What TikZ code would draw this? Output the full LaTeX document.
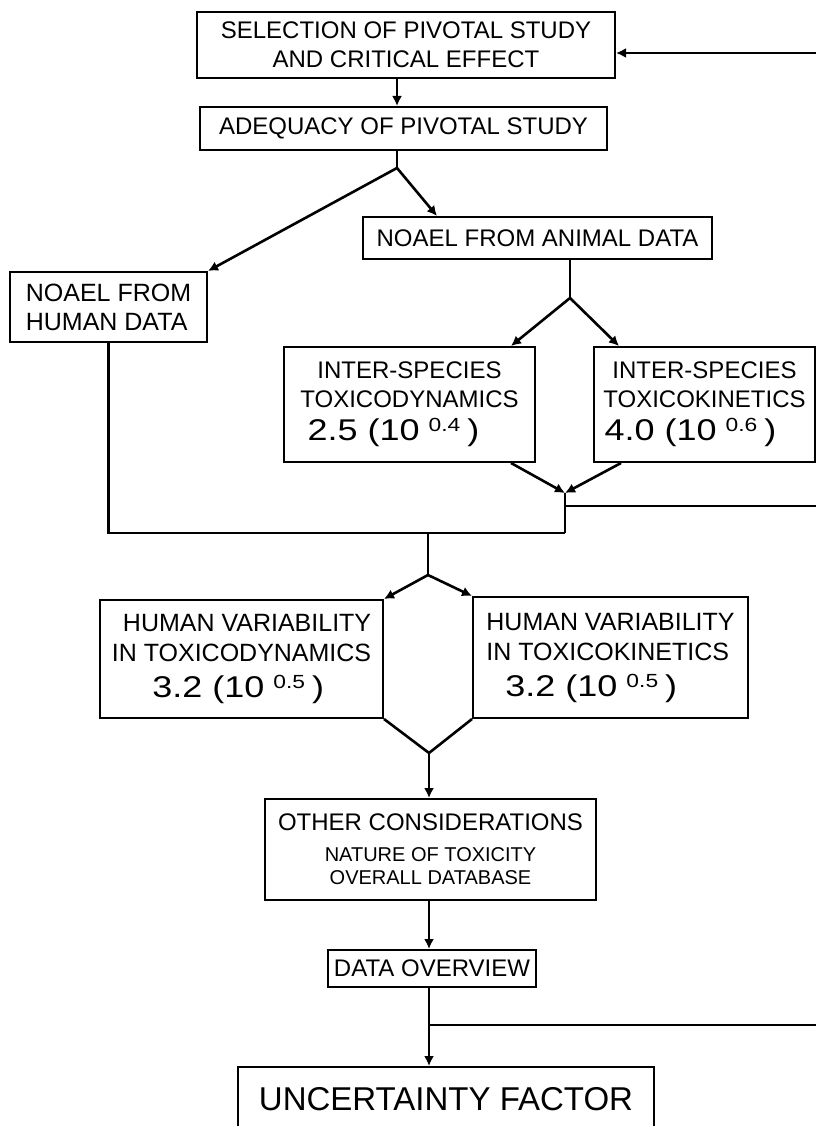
\documentclass[tikz,border=0pt]{standalone}
\usepackage{fontspec}
\setmainfont{Liberation Sans}
\newfontfamily\widefamily{Liberation Sans}[FakeStretch=1.2]
\usetikzlibrary{arrows.meta, positioning, calc}

\newcommand{\smallfont}{\fontsize{20}{24}\selectfont}
% uncertainty value with its power of ten
\newcommand{\ufvalue}[2]{{\widefamily\fontsize{30}{34}\selectfont #1\ (10\hspace{9pt}\raisebox{9pt}{\fontsize{19}{22}\selectfont #2}\hspace{7pt})}}

\begin{document}
\begin{tikzpicture}[x=1pt, y=-1pt,
  box/.style={rectangle, draw, line width=2pt, inner sep=0pt, align=center, font=\fontsize{24}{29}\selectfont},
  arrow/.style={-{Latex[length=10pt, width=10pt]}, line width=2.6pt},
  link/.style={line width=2.6pt}
]
\useasboundingbox (0,0) rectangle (816,1126);

\node[box, minimum width=418pt, minimum height=66pt] (select) at (406,45) {SELECTION OF PIVOTAL STUDY\\AND CRITICAL EFFECT};
\node[box, minimum width=407pt, minimum height=43pt] (adequacy) at (403.5,128.5) {ADEQUACY OF PIVOTAL STUDY};
\node[box, minimum width=349pt, minimum height=42pt] (animal) at (537.5,238) {NOAEL FROM ANIMAL DATA};
\node[box, align=left, minimum width=197pt, minimum height=70pt, font=\fontsize{25}{29}\selectfont] (human) at (108.5,307) {NOAEL FROM\\HUMAN DATA};

\node[box, minimum width=251pt, minimum height=115pt] (dynamics) at (409.5,404.5) {INTER-SPECIES\\TOXICODYNAMICS\\[4pt]\ufvalue{2.5}{0.4}\hspace*{32pt}};
\node[box, minimum width=221pt, minimum height=115pt] (kinetics) at (704.5,404.5) {INTER-SPECIES\\TOXICOKINETICS\\[4pt]\ufvalue{4.0}{0.6}\hspace*{28pt}};

\node[box, align=right, minimum width=283pt, minimum height=118pt, font=\fontsize{25}{30}\selectfont] (hvdyn) at (241.5,659) {HUMAN VARIABILITY\\IN TOXICODYNAMICS\\[6pt]\ufvalue{3.2}{0.5}\hspace*{47pt}};
\node[box, align=left, minimum width=275pt, minimum height=121pt, font=\fontsize{25}{30}\selectfont] (hvkin) at (610.5,657.5) {HUMAN VARIABILITY\\IN TOXICOKINETICS\\[6pt]\hspace*{19pt}\ufvalue{3.2}{0.5}};

\node[box, minimum width=331pt, minimum height=101pt] (other) at (430.5,849.5) {OTHER CONSIDERATIONS\\[2pt]{\smallfont NATURE OF TOXICITY}\\[-6pt]{\smallfont OVERALL DATABASE}};
\node[box, minimum width=208pt, minimum height=37pt] (overview) at (432,968.5) {DATA OVERVIEW};
\node[box, minimum width=416pt, minimum height=64pt, font=\fontsize{33}{40}\selectfont] (factor) at (446,1099) {UNCERTAINTY FACTOR};

% loop back into the first box
\coordinate (back1) at (816,53);
\draw[arrow] (back1) -- (select.east |- back1);

\coordinate (split1) at (397,168);
\draw[arrow] (select.south -| split1) -- (adequacy.north -| split1);
\draw[link] (adequacy.south -| split1) -- (split1);
\draw[arrow] (split1) -- (human.north east);
\draw[arrow] (split1) -- ($(animal.north west)+(75,0)$);

\coordinate (split2) at (570,298);
\draw[link] (animal.south -| split2) -- (split2);
\draw[arrow] (split2) -- ($(dynamics.north west)+(228,0)$);
\draw[arrow] (split2) -- ($(kinetics.north west)+(26,0)$);

% inter-species factors join the human data line
\coordinate (merge1) at (565,493);
\coordinate (join) at (565,533);
\coordinate (back2) at (816,506);
\draw[arrow] ($(dynamics.south west)+(228,0)$) -- (merge1);
\draw[arrow] ($(kinetics.south west)+(28,0)$) -- (merge1);
\draw[link] (merge1) -- (join);
\draw[link] (human.south) |- (join);
\draw[link] (merge1 |- back2) -- (back2);

\coordinate (split3) at (428,575);
\draw[link] (split3 |- join) -- (split3);
\draw[arrow] (split3) -- (hvdyn.north east);
\draw[arrow] (split3) -- (hvkin.north west);

\coordinate (merge2) at (429,753);
\draw[link] (hvdyn.south east) -- (merge2) -- (hvkin.south west);
\draw[arrow] (merge2) -- (other.north -| merge2);
\draw[arrow] (other.south -| merge2) -- (overview.north -| merge2);

\coordinate (back3) at (816,1025);
\draw[arrow] (overview.south -| merge2) -- (factor.north -| merge2);
\draw[link] (merge2 |- back3) -- (back3);

\end{tikzpicture}
\end{document}
